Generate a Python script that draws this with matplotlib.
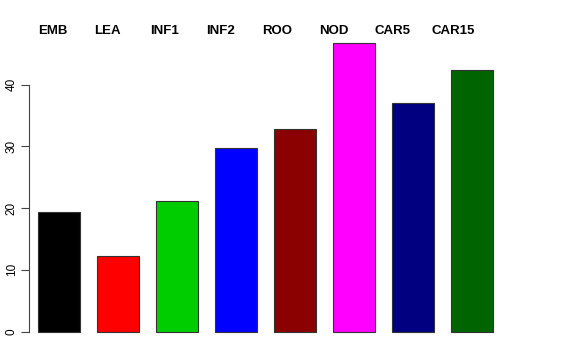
import numpy as np
import matplotlib
matplotlib.use('Agg')
import matplotlib.pyplot as plt

# データ
labels = ['EMB', 'LEA', 'INF1', 'INF2', 'ROO', 'NOD', 'CAR5', 'CAR15']
values = [19.4, 12.2, 21.2, 29.7, 32.8, 46.8, 37.0, 42.4]
colors = ['#000000', '#FF0000', '#00CD00', '#0000FF',
          '#8B0000', '#FF00FF', '#000080', '#006400']

plt.rcParams['font.family'] = ['Liberation Sans', 'DejaVu Sans']

fig = plt.figure(figsize=(5.76, 3.6), dpi=100)
ax = fig.add_axes([29 / 576, 0.047, (517 - 29) / 576, 0.866])

x = np.arange(len(values))
ax.bar(x, values, width=0.7, color=colors, edgecolor='#333333', linewidth=0.8)

ax.set_xlim(-0.508, 7.76)
ax.set_ylim(-1.872, 48.672)

for s in ['top', 'right', 'bottom']:
    ax.spines[s].set_visible(False)
ax.spines['left'].set_bounds(0, 40)
ax.spines['left'].set_color('#444444')
ax.set_xticks([])
ax.set_yticks([0, 10, 20, 30, 40])
ax.tick_params(axis='y', length=6, width=0.8, color='#444444', pad=2, labelsize=8.5)
for t in ax.get_yticklabels():
    t.set_rotation(90)
    t.set_va('center')

# 上部のラベル
lx = -0.36 + 0.952 * np.arange(len(labels))
for xi, lab in zip(lx, labels):
    ax.text(xi, 48.8, lab, ha='left', va='center', fontsize=9.5,
            fontweight='bold', clip_on=False)

plt.savefig('out.png', dpi=100)
